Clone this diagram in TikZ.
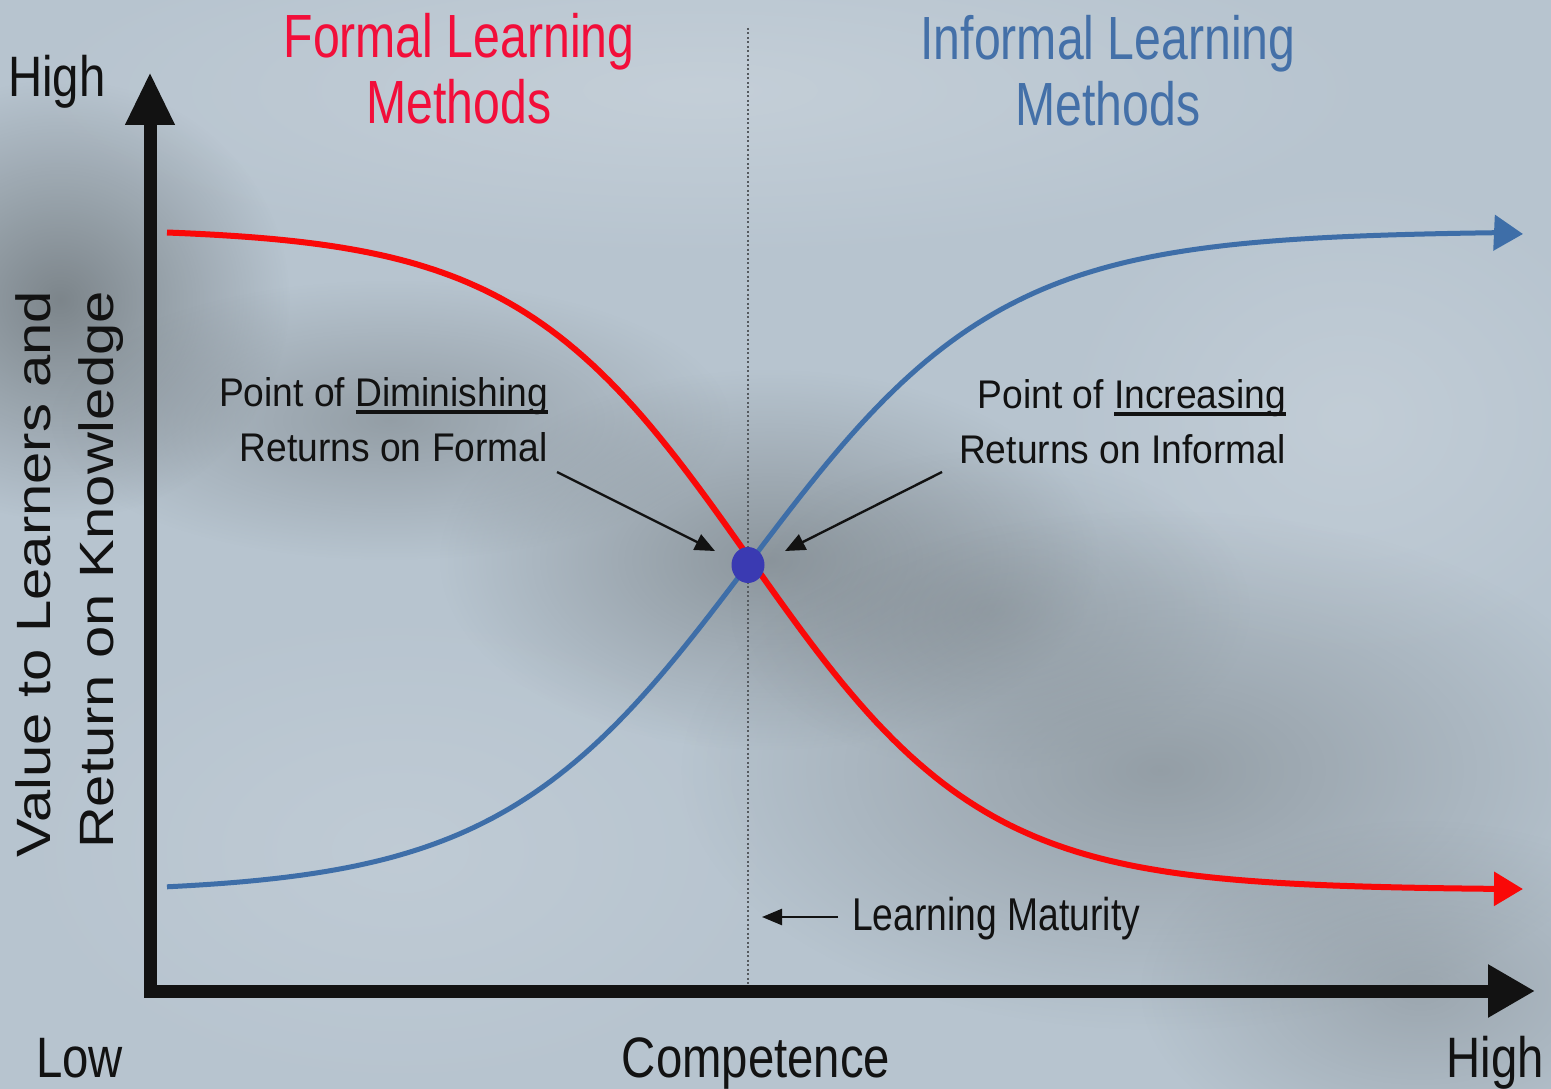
\documentclass[tikz,border=0pt]{standalone}
\usepackage{fontspec}
\setmainfont{Liberation Sans}
\usepackage{graphicx}
\usetikzlibrary{arrows.meta,fadings,shapes.geometric}
\definecolor{bgc}{RGB}{183,196,207}
\definecolor{shadowc}{RGB}{105,112,116}
\definecolor{lightc}{RGB}{205,214,222}
\definecolor{redc}{RGB}{250,8,8}
\definecolor{redt}{RGB}{242,14,58}
\definecolor{bluec}{RGB}{62,110,168}
\definecolor{bluet}{RGB}{68,112,168}
\definecolor{dotc}{RGB}{58,58,178}
\definecolor{ink}{RGB}{18,18,18}
\definecolor{guide}{RGB}{85,90,95}
\tikzfading[name=softspot, inner color=transparent!0, outer color=transparent!100]
\newcommand\ulx[1]{\setbox0=\hbox{#1}\rlap{\rule[-8pt]{\wd0}{4.5pt}}\box0}
\newcommand\myfnt[3]{\addfontfeature{FakeStretch=#3}\fontsize{#1}{#2}\selectfont}
\begin{document}
\begin{tikzpicture}[x=1pt,y=-1pt,
  spot/.style={shadowc, path fading=softspot},
  title/.style={inner sep=0pt, align=center, font=\myfnt{61}{66}{0.79}},
  axtext/.style={inner sep=0pt, text=ink, font=\myfnt{57}{60}{0.83}},
  ylab/.style={inner sep=0pt, text=ink, rotate=90, anchor=base, font=\fontsize{58}{60}\selectfont},
  note/.style={inner sep=0pt, text=ink, align=right, anchor=north east, font=\myfnt{40}{55}{0.93}},
  annarrow/.style={draw=ink, line width=2.4pt, -{Triangle[length=20pt,width=17pt]}},
  curve/.style={line width=#1, line cap=butt}
]
\useasboundingbox (0,0) rectangle (1551,1089);
% background
\fill[bgc] (0,0) rectangle (1551,1089);
\fill[lightc, path fading=softspot, opacity=0.6] (700,90) ellipse [x radius=700, y radius=170];
\fill[lightc, path fading=softspot, opacity=0.5] (1350,420) ellipse [x radius=300, y radius=250];
\fill[lightc, path fading=softspot, opacity=0.4] (400,850) ellipse [x radius=400, y radius=250];
\fill[spot, opacity=0.75] (60,300) ellipse [x radius=230, y radius=220];
\fill[spot, opacity=0.45] (390,420) ellipse [x radius=340, y radius=140];
\fill[spot, opacity=0.55] (770,560) ellipse [x radius=330, y radius=190];
\fill[spot, opacity=0.3] (990,610) ellipse [x radius=260, y radius=160];
\fill[spot, opacity=0.45] (1160,770) ellipse [x radius=480, y radius=260];
\fill[spot, opacity=0.35] (1420,990) ellipse [x radius=280, y radius=170];

% guide line
\coordinate (gtop) at (748,28);
\coordinate (gbot) at (748,985);
\draw[guide, line width=1.6pt, dash pattern=on 2pt off 2.5pt] (gtop) -- (gbot);

% curves
\coordinate (redTip) at (1523,889);
\coordinate (blueTip) at (1523,234);
\draw[redc, curve=6pt, -{Triangle[length=29pt,width=33pt]}]
  plot[domain=167:1494, samples=160] (\x,{559+331*tanh(0.00427*(\x-750))}) -- (redTip);
\draw[bluec, curve=5pt, -{Triangle[length=29pt,width=35pt]}]
  plot[domain=167:1494, samples=160] (\x,{562-331*tanh(0.0040*(\x-750))}) -- (blueTip);

% intersection point
\node[ellipse, fill=dotc, minimum width=33pt, minimum height=36pt, inner sep=0pt] (dot) at (748,565) {};

% axes
\coordinate (O) at (150,991);
\coordinate (ytip) at (150,72);
\coordinate (xtip) at (1535,991);
\draw[ink, line width=13pt, line join=miter,
  {Triangle[length=53pt,width=46pt]}-{Triangle[length=47pt,width=50pt]}] (ytip) -- (O) -- (xtip);

% titles
\node[title, text=redt, anchor=north] (formal) at (459,13) {Formal Learning\\Methods};
\node[title, text=bluet, anchor=north] (informal) at (1108,15) {Informal Learning\\Methods};

% axis texts
\node[axtext, anchor=base west] (hiy) at (8,97) {High};
\node[axtext, anchor=base west] (low) at (36,1077) {Low};
\node[axtext, anchor=base] (comp) at (756,1077) {Competence};
\node[axtext, anchor=base east] (hix) at (1544,1077) {High};
\node[ylab] (yl1) at (50,574) {\scalebox{1}[0.83]{Value to Learners and}};
\node[ylab] (yl2) at (113,570) {\scalebox{1}[0.83]{Return on Knowledge}};

% annotations
\node[note] (dim) at (548,377) {Point of \ulx{Diminishing}\\Returns on Formal};
\node[note] (inc) at (1286,379) {Point of \ulx{Increasing}\\Returns on Informal};
\coordinate (la) at (557,472);
\coordinate (lb) at (715,551);
\coordinate (ra) at (942,472);
\coordinate (rb) at (785,551);
\draw[annarrow] (la) -- (lb);
\draw[annarrow] (ra) -- (rb);

\node[inner sep=0pt, text=ink, anchor=base west, font=\myfnt{46}{50}{0.81}] (lm) at (852,930) {Learning Maturity};
\coordinate (ma) at (838,917);
\coordinate (mb) at (762,917);
\draw[ink, line width=2.4pt, -{Triangle[length=20pt,width=16pt]}] (ma) -- (mb);
\end{tikzpicture}
\end{document}
